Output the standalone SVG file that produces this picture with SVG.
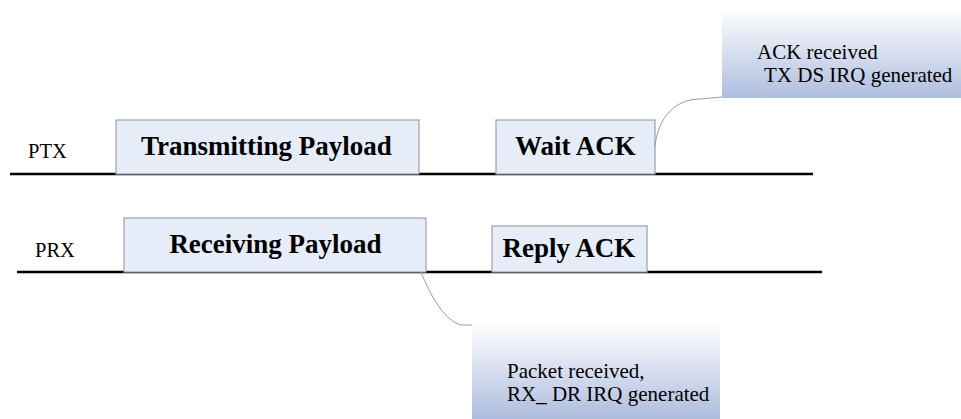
<svg xmlns="http://www.w3.org/2000/svg" width="961" height="419" viewBox="0 0 961 419">
  <defs>
    <linearGradient id="calloutFill" x1="0" y1="0" x2="0" y2="1">
      <stop offset="0" stop-color="#ffffff"/>
      <stop offset="1" stop-color="#aebddf"/>
    </linearGradient>
    <style>
      .axis { stroke: #000; stroke-width: 2.5; fill: none; }
      .phase rect { fill: #e6edf8; stroke: #a0a0a0; stroke-width: 1.2; }
      .phase text { font-family: "Liberation Serif", serif; font-weight: bold; font-size: 27px; fill: #000; text-anchor: middle; }
      .lane { font-family: "Liberation Serif", serif; font-size: 20.5px; fill: #000; }
      .note rect { fill: url(#calloutFill); stroke: none; }
      .note text { font-family: "Liberation Serif", serif; font-size: 21px; fill: #000; }
      .leader { stroke: #8e9cc0; stroke-width: 1; fill: none; }
    </style>
  </defs>

  <rect width="961" height="419" fill="#ffffff"/>

  <!-- timelines -->
  <g id="timelines">
    <line class="axis" x1="10" y1="174" x2="813" y2="174"/>
    <line class="axis" x1="17" y1="272" x2="822" y2="272"/>
    <text class="lane" x="28" y="158">PTX</text>
    <text class="lane" x="35" y="256.5">PRX</text>
  </g>

  <!-- PTX phases -->
  <g id="tx-payload" class="phase">
    <rect x="116" y="120" width="303" height="54"/>
    <text x="266.5" y="155">Transmitting Payload</text>
  </g>
  <g id="wait-ack" class="phase">
    <rect x="496" y="120" width="159" height="54"/>
    <text x="575.5" y="155">Wait ACK</text>
  </g>

  <!-- PRX phases -->
  <g id="rx-payload" class="phase">
    <rect x="124" y="218" width="302" height="54"/>
    <text x="275.5" y="253">Receiving Payload</text>
  </g>
  <g id="reply-ack" class="phase">
    <rect x="492" y="226" width="155" height="46"/>
    <text x="569" y="256.5">Reply ACK</text>
  </g>

  <!-- callouts -->
  <g id="ack-note" class="note">
    <rect x="722" y="8" width="239" height="90"/>
    <text x="757" y="59">ACK received</text>
    <text x="764" y="82">TX DS IRQ generated</text>
  </g>
  <g id="rx-note" class="note">
    <rect x="472" y="322" width="248" height="97"/>
    <text x="507" y="378">Packet received,</text>
    <text x="507" y="401">RX_ DR IRQ generated</text>
  </g>

  <!-- leaders -->
  <g id="connectors">
    <path class="leader" d="M655,146 C658,118 675,99 700,99 L722,97"/>
    <path class="leader" d="M421,272 C430,295 445,322 462,325 L472,325"/>
  </g>
</svg>
